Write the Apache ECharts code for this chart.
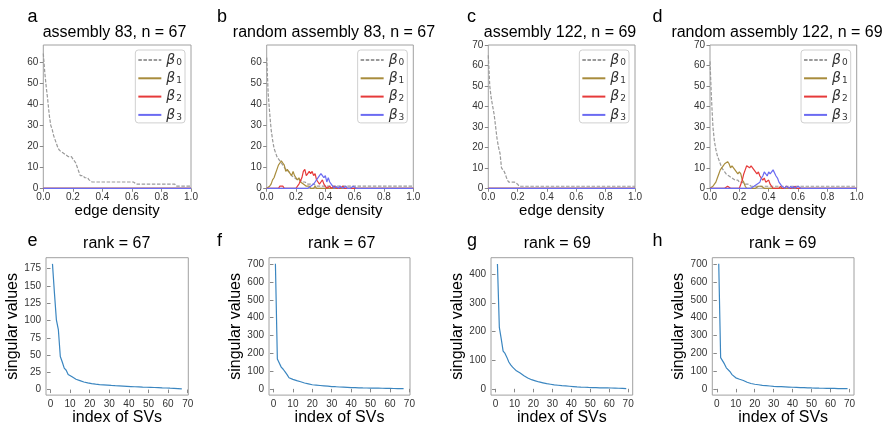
<!DOCTYPE html>
<html><head><meta charset="utf-8">
<script src="https://cdn.jsdelivr.net/npm/echarts@6/dist/echarts.min.js"></script>
<style>html,body{margin:0;padding:0;background:#fff}#c{width:883px;height:427px}</style>
</head><body><div id="c"></div><script>
// ---------- DATA ----------
const density = [
 0.00,0.01,0.02,0.03,0.04,0.05,0.06,0.07,0.08,0.09,
 0.10,0.11,0.12,0.13,0.14,0.15,0.16,0.17,0.18,0.19,
 0.20,0.21,0.22,0.23,0.24,0.25,0.26,0.27,0.28,0.29,
 0.30,0.31,0.32,0.33,0.34,0.35,0.36,0.37,0.38,0.39,
 0.40,0.41,0.42,0.43,0.44,0.45,0.46,0.47,0.48,0.49,
 0.50,0.51,0.52,0.53,0.54,0.55,0.56,0.57,0.58,0.59,
 0.60,0.61,0.62,0.63,0.64,0.65,0.66,0.67,0.68,0.69,
 0.70,0.71,0.72,0.73,0.74,0.75,0.76,0.77,0.78,0.79,
 0.80,0.81,0.82,0.83,0.84,0.85,0.86,0.87,0.88,0.89,
 0.90,0.91,0.92,0.93,0.94,0.95,0.96,0.97,0.98,0.99,
 1.00];
const flatDensity = [0.0, 1.0];
const flatZero = [0, 0];

// panel a: assembly 83
const aB0 = [
 64,55,48,42,35,30,28,25,23,21,
 19,18,18,17,17,16,16,15,15,15,
 14,13,12,10,8,6,6,6,5,5,
 5,4,4,3,3,3,3,3,3,3,
 3,3,3,3,3,3,3,3,3,3,
 3,3,3,3,3,3,3,3,3,3,
 3,3,3,2,2,2,2,2,2,2,
 2,2,2,2,2,2,2,2,2,2,
 2,2,2,2,2,2,2,2,2,2,
 1,1,1,1,1,1,1,1,1,1,
 1];
// panel b: random assembly 83
const bB0 = [
 62,45,36,28,23,19,17,15,14,13,
 12,11,10,9,9,8,7,6,6,5,
 5,4,4,4,3,3,3,3,2,2,
 2,2,2,2,1,1,1,1,1,1,
 1,1,1,1,1,1,1,1,1,1,
 1,1,1,1,1,1,1,1,1,1,
 1,1,1,1,1,1,1,1,1,1,
 1,1,1,1,1,1,1,1,1,1,
 1,1,1,1,1,1,1,1,1,1,
 1,1,1,1,1,1,1,1,1,1,
 1];
const bB1 = [
 0,0,1,2,4,5,7,9,11,12,
 13,12,11,8,9,9,7,6,8,6,
 5,4,5,3,3,2,2,1,1,1,
 0,0,0,1,0,0,0,0,0,0,
 0,0,0,0,0,0,0,0,0,0,
 0,0,0,0,0,0,0,0,0,0,
 0,0,0,0,0,0,0,0,0,0,
 0,0,0,0,0,0,0,0,0,0,
 0,0,0,0,0,0,0,0,0,0,
 0,0,0,0,0,0,0,0,0,0,
 0];
const bB2 = [
 0,0,0,0,0,0,0,0,0,1,
 1,1,0,0,0,0,0,0,0,0,
 0,1,2,2,5,8,9,6,7,8,
 7,8,6,7,4,3,2,3,4,2,
 1,0,0,1,0,0,1,1,0,0,
 0,0,1,0,0,0,0,0,0,0,
 0,0,0,0,0,0,0,0,0,0,
 0,0,0,0,0,0,0,0,0,0,
 0,0,0,0,0,0,0,0,0,0,
 0,0,0,0,0,0,0,0,0,0,
 0];
const bB3 = [
 0,0,0,0,0,0,0,0,0,0,
 0,0,0,0,0,0,0,0,0,0,
 0,0,0,0,0,0,0,0,0,0,
 1,1,2,3,4,4,6,7,6,5,
 6,3,5,3,2,1,0,1,1,0,
 1,1,0,0,1,0,0,0,0,1,
 1,0,0,0,0,0,0,0,0,0,
 0,0,0,0,0,0,0,0,0,0,
 0,0,0,0,0,0,0,0,0,0,
 0,0,0,0,0,0,0,0,0,0,
 0];
// panel c: assembly 122
const cB0 = [
 65,50,44,40,36,30,24,20,17,10,
 9,8,8,4,3,3,3,3,3,3,
 2,1,1,1,1,1,1,1,1,1,
 1,1,1,1,1,1,1,1,1,1,
 1,1,1,1,1,1,1,1,1,1,
 1,1,1,1,1,1,1,1,1,1,
 1,1,1,1,1,1,1,1,1,1,
 1,1,1,1,1,1,1,1,1,1,
 1,1,1,1,1,1,1,1,1,1,
 1,1,1,1,1,1,1,1,1,1,
 1];
// panel d: random assembly 122
const dB0 = [
 62,44,30,23,19,16,14,12,10,9,
 8,7,7,6,6,5,5,4,4,4,
 3,3,3,3,2,2,2,2,1,1,
 1,1,1,1,1,1,1,1,1,1,
 1,1,1,1,1,1,1,1,1,1,
 1,1,1,1,1,1,1,1,1,1,
 1,1,1,1,1,1,1,1,1,1,
 1,1,1,1,1,1,1,1,1,1,
 1,1,1,1,1,1,1,1,1,1,
 1,1,1,1,1,1,1,1,1,1,
 1];
const dB1 = [
 0,0,1,2,3,5,7,9,10,11,
 12,12,13,12,10,11,10,9,8,7,
 8,7,4,3,1,0,0,0,0,0,
 0,0,0,1,1,1,1,0,0,0,
 0,0,0,0,0,0,0,0,0,0,
 0,0,0,0,0,0,0,0,0,0,
 0,0,0,0,0,0,0,0,0,0,
 0,0,0,0,0,0,0,0,0,0,
 0,0,0,0,0,0,0,0,0,0,
 0,0,0,0,0,0,0,0,0,0,
 0];
const dB2 = [
 0,0,0,0,0,0,0,0,0,0,
 0,0,1,1,0,0,0,0,0,0,
 0,2,4,7,9,11,11,10,11,10,
 9,9,7,8,6,5,4,5,3,3,
 4,2,1,0,0,0,0,0,1,0,
 0,0,1,1,0,0,0,0,1,0,
 0,0,0,0,0,0,0,0,0,0,
 0,0,0,0,0,0,0,0,0,0,
 0,0,0,0,0,0,0,0,0,0,
 0,0,0,0,0,0,0,0,0,0,
 0];
const dB3 = [
 0,0,0,0,0,0,0,0,0,0,
 0,0,0,0,0,0,0,0,0,0,
 0,0,0,0,0,0,0,0,0,0,
 1,1,2,2,3,5,6,8,7,6,
 8,7,8,9,9,6,5,3,2,1,
 1,0,1,1,0,1,0,1,0,0,
 1,1,0,0,0,0,0,0,0,0,
 0,0,0,0,0,0,0,0,0,0,
 0,0,0,0,0,0,0,0,0,0,
 0,0,0,0,0,0,0,0,0,0,
 0];

// singular values
const svIndex67 = [
 1,2,3,4,5,6,7,8,9,10,11,12,13,14,15,16,17,18,19,20,
 21,22,23,24,25,26,27,28,29,30,31,32,33,34,35,36,37,38,39,40,
 41,42,43,44,45,46,47,48,49,50,51,52,53,54,55,56,57,58,59,60,
 61,62,63,64,65,66,67];
const svIndex69 = [
 1,2,3,4,5,6,7,8,9,10,11,12,13,14,15,16,17,18,19,20,
 21,22,23,24,25,26,27,28,29,30,31,32,33,34,35,36,37,38,39,40,
 41,42,43,44,45,46,47,48,49,50,51,52,53,54,55,56,57,58,59,60,
 61,62,63,64,65,66,67,68,69];
const eSV = [
 182,140,101,87,48,40,31,28,22,20,
 18.5,16.5,15,13.8,13,12,11,10.3,9.7,9.2,
 8.6,8.1,7.9,7.6,7.3,7.1,6.9,6.7,6.5,6.2,
 6.0,5.8,5.6,5.4,5.3,5.1,5.0,4.8,4.7,4.5,
 4.4,4.2,4.1,4.0,3.9,3.7,3.6,3.5,3.4,3.3,
 3.2,3.1,3.0,2.9,2.8,2.6,2.5,2.4,2.3,2.2,
 2.0,1.9,1.8,1.6,1.5,1.3,1.1];
const fSV = [
 702,168,160,122,110,95,80,62,56,53,
 50,46,44,40,35,33,30,28,25,23,
 22,21,20,19,18,17,16,15,14,13,
 12.5,12,11,10.5,10,9.5,9,8.5,8,7.5,
 7.2,6.8,6.4,6.0,5.6,5.3,5.0,4.8,4.6,4.4,
 4.2,4.0,3.8,3.7,3.5,3.3,3.1,2.9,2.7,2.5,
 2.3,2.1,1.9,1.7,1.5,1.2,0.9];
const gSV = [
 437,215,175,132,124,110,94,84,76,69,
 63,58,55,51,46,41,38,35,32,29,
 28,26,24,22.5,21,19.5,18,17,16,15,
 14,13,12.5,12,11,10.5,10,9.5,9,8.5,
 8,7.5,7,6.6,6.2,5.8,5.5,5.2,4.9,4.6,
 4.4,4.2,4.0,3.8,3.6,3.5,3.4,3.3,3.2,3.0,
 2.8,2.6,2.4,2.2,2.0,1.8,1.5,1.2,0.9];
const hSV = [
 702,175,168,140,118,108,96,80,70,62,
 57,54,51,47,42,37,33,30,28,26,
 25,23,21,20,19,18,17,16,15,14,
 13.5,13,12.5,12,11.5,11,10.5,10,9.5,9,
 8.6,8.2,7.8,7.4,7.0,6.6,6.2,5.8,5.4,5.0,
 4.7,4.4,4.1,3.8,3.6,3.4,3.2,3.0,2.8,2.6,
 2.4,2.2,2.0,1.8,1.6,1.4,1.2,1.0,0.8];

// tick labels
const xTicksTop = [0, 0.2, 0.4, 0.6, 0.8, 1.0];
const yTicksAB = [0, 10, 20, 30, 40, 50, 60];
const yTicksCD = [0, 10, 20, 30, 40, 50, 60, 70];
const xTicksSV = [0, 10, 20, 30, 40, 50, 60, 70];
const yTicksE = [0, 25, 50, 75, 100, 125, 150, 175];
const yTicksF = [0, 100, 200, 300, 400, 500, 600, 700];
const yTicksG = [0, 100, 200, 300, 400];
const yTicksH = [0, 100, 200, 300, 400, 500, 600, 700];

const letters = ['a','b','c','d','e','f','g','h'];
const titlesTop = ['assembly 83, n = 67','random assembly 83, n = 67','assembly 122, n = 69','random assembly 122, n = 69'];
const titlesBottom = ['rank = 67','rank = 67','rank = 69','rank = 69'];
const bettiNames = ['β0','β1','β2','β3'];

// ---------- LAYOUT / STYLE ----------
const FONT = '"Liberation Sans", Arial, Helvetica, sans-serif';
const bettiColors = ['#9a9a9a', '#a88c3c', '#e63a3a', '#6b6bf2'];
const svColor = '#3b86c0';
const frameColor = '#a0a0a0';

const zip = (xs, ys) => xs.map((x, i) => [x, ys[i]]);

const topGrids = [
  {left: 43.3, top: 45, width: 147.7, height: 143.3},
  {left: 266.7, top: 45, width: 146.6, height: 143.3},
  {left: 488.3, top: 45, width: 146.7, height: 143.3},
  {left: 710, top: 45, width: 146.7, height: 143.3}
];
const botGrids = [
  {left: 46, top: 257.7, width: 142.3, height: 142.3},
  {left: 269, top: 257.7, width: 141, height: 142.3},
  {left: 491, top: 257.7, width: 141.7, height: 142.3},
  {left: 712.3, top: 257.7, width: 141.7, height: 142.3}
];
const grids = topGrids.concat(botGrids).map(g => Object.assign({
  show: true, borderColor: frameColor, borderWidth: 1, backgroundColor: 'transparent', containLabel: false
}, g));

const tickLabel = {color: '#333', fontSize: 10, fontFamily: FONT};
function axisBase(gridIndex, min, max, ticks, fmt, margin) {
  return {
    type: 'value', gridIndex, min, max,
    axisLine: {show: false},
    splitLine: {show: false},
    axisTick: {show: true, length: 3.5, lineStyle: {color: '#888', width: 1}, customValues: ticks},
    axisLabel: Object.assign({margin: margin, customValues: ticks, formatter: fmt}, tickLabel)
  };
}
const fmtDec = v => Number(v).toFixed(1);
const fmtInt = v => String(Math.round(v));

const xAxes = [], yAxes = [];
const topYMax = [68, 68, 70, 70];
const topYTicks = [yTicksAB, yTicksAB, yTicksCD, yTicksCD];
for (let i = 0; i < 4; i++) {
  xAxes.push(Object.assign(axisBase(i, 0, 1, xTicksTop, fmtDec, 4), {
    name: 'edge density', nameLocation: 'middle', nameGap: 13,
    nameTextStyle: {fontSize: 15, color: '#000', fontFamily: FONT}
  }));
  yAxes.push(axisBase(i, 0, topYMax[i], topYTicks[i], fmtInt, 5));
}
const botX = [[-2.3, 70.3], [-2.3, 70.3], [-2.4, 72.4], [-2.4, 72.4]];
const botY = [[-8, 191, yTicksE], [-35, 736, yTicksF], [-22, 459, yTicksG], [-35, 736, yTicksH]];
for (let i = 0; i < 4; i++) {
  xAxes.push(Object.assign(axisBase(4 + i, botX[i][0], botX[i][1], xTicksSV, fmtInt, 4), {
    name: 'index of SVs', nameLocation: 'middle', nameGap: 12,
    nameTextStyle: {fontSize: 16, color: '#000', fontFamily: FONT}
  }));
  yAxes.push(Object.assign(axisBase(4 + i, botY[i][0], botY[i][1], botY[i][2], fmtInt, 5), {
    name: 'singular values', nameLocation: 'middle', nameGap: 21,
    nameTextStyle: {fontSize: 16, color: '#000', fontFamily: FONT}
  }));
}

const topData = [
  [[density, aB0], [flatDensity, flatZero], [flatDensity, flatZero], [flatDensity, flatZero]],
  [[density, bB0], [density, bB1], [density, bB2], [density, bB3]],
  [[density, cB0], [flatDensity, flatZero], [flatDensity, flatZero], [flatDensity, flatZero]],
  [[density, dB0], [density, dB1], [density, dB2], [density, dB3]]
];
const series = [];
topData.forEach((panel, p) => {
  panel.forEach((s, k) => {
    series.push({
      type: 'line', name: bettiNames[k], xAxisIndex: p, yAxisIndex: p,
      data: zip(s[0], s[1]), symbol: 'none', showSymbol: false, silent: true,
      lineStyle: {color: bettiColors[k], width: 1.2, type: k === 0 ? [3.5, 1.6] : 'solid'},
      itemStyle: {color: bettiColors[k]}
    });
  });
});
const svData = [[svIndex67, eSV], [svIndex67, fSV], [svIndex69, gSV], [svIndex69, hSV]];
svData.forEach((s, p) => {
  series.push({
    type: 'line', name: 'sv' + p, xAxisIndex: 4 + p, yAxisIndex: 4 + p,
    data: zip(s[0], s[1]), symbol: 'none', showSymbol: false, silent: true,
    lineStyle: {color: svColor, width: 1.2}
  });
});

const legendRights = [698, 475.7, 254, 32.3];
const legends = legendRights.map(r => ({
  orient: 'vertical', right: r, top: 50,
  data: bettiNames, selectedMode: false,
  itemWidth: 23, itemHeight: 14, itemGap: 4.3,
  padding: [3, 3, 1, 2],
  itemStyle: {opacity: 0},
  borderColor: '#d0d0d0', borderWidth: 1, borderRadius: 3, backgroundColor: '#fff',
  formatter: n => '{i|β}{s|' + n.slice(1) + '}',
  textStyle: {
    color: '#333',
    rich: {
      i: {fontFamily: '"DejaVu Sans"', fontStyle: 'italic', fontSize: 14, color: '#333', lineHeight: 14, verticalAlign: 'top'},
      s: {fontFamily: '"DejaVu Sans"', fontSize: 9, color: '#333', lineHeight: 9, padding: [5, 0, 0, 1], verticalAlign: 'top'}
    }
  }
}));

const titleTopX = [114.5, 334, 560, 777];
const titleBotX = [116.7, 341.7, 557.3, 782.7];
const letterX = [27.5, 217, 467, 652.5];
const graphics = [];
function txt(x, y, text, size, align) {
  return {type: 'text', x, y, silent: true, style: {
    text, fill: '#000', font: size + 'px ' + FONT,
    align, verticalAlign: 'middle', textAlign: align, textVerticalAlign: 'middle'
  }};
}
for (let i = 0; i < 4; i++) {
  graphics.push(txt(titleTopX[i], 33, titlesTop[i], 16, 'center'));
  graphics.push(txt(titleBotX[i], 244, titlesBottom[i], 16, 'center'));
  graphics.push(txt(letterX[i], 17.5, letters[i], 18, 'left'));
  graphics.push(txt(letterX[i], 241.5, letters[4 + i], 18, 'left'));
}

const chart = echarts.init(document.getElementById('c'), null, {renderer: 'canvas'});
chart.setOption({
  animation: false,
  backgroundColor: '#fff',
  grid: grids,
  xAxis: xAxes,
  yAxis: yAxes,
  legend: legends,
  series: series,
  graphic: graphics
});
</script></body></html>
